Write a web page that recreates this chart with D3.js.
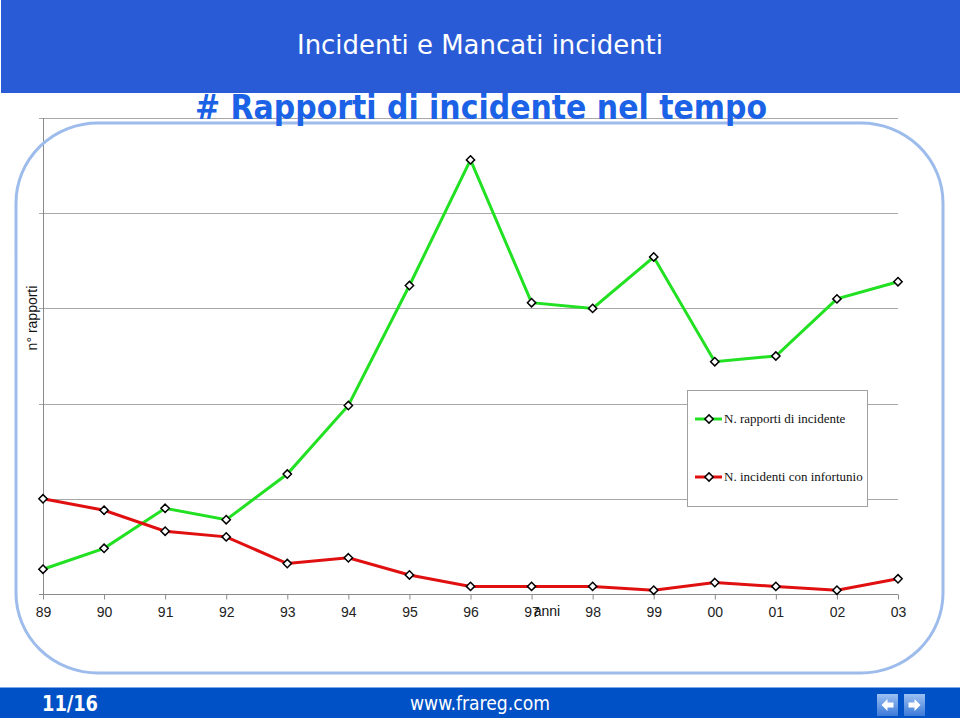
<!DOCTYPE html>
<html>
<head>
<meta charset="utf-8">
<script src="https://cdn.jsdelivr.net/npm/d3@7"></script>
<style>
    body { margin: 0; background: #fff; }
    svg { display: block; }
</style>
</head>
<body>
<div id="chart"></div>
<script>
// data
var years = ["89", "90", "91", "92", "93", "94", "95", "96", "97", "98", "99", "00", "01", "02", "03"];
var rapporti = [13, 24, 45, 39, 63, 99, 162, 228, 153, 150, 177, 122, 125, 155, 164];
var infortuni = [50, 44, 33, 30, 16, 19, 10, 4, 4, 4, 2, 6, 4, 2, 8];
var gridValues = [0, 50, 100, 150, 200, 250];
var seriesNames = ["N. rapporti di incidente", "N. incidenti con infortunio"];
var seriesColors = ["#22e022", "#e01010"];

var W = 960, H = 718;
var svg = d3.select("#chart").append("svg")
    .attr("width", W)
    .attr("height", H);

// header band
svg.append("rect")
    .attr("x", 1).attr("y", 0)
    .attr("width", W - 1).attr("height", 93)
    .attr("fill", "#2a5bd6");
svg.append("text")
    .attr("x", 480).attr("y", 54)
    .attr("text-anchor", "middle")
    .attr("fill", "#fff")
    .attr("font-family", "DejaVu Sans Condensed, DejaVu Sans")
    .attr("font-size", "26px")
    .attr("textLength", 366)
    .attr("lengthAdjust", "spacingAndGlyphs")
    .text("Incidenti  e Mancati incidenti");

// footer band
svg.append("rect")
    .attr("x", 0).attr("y", 687)
    .attr("width", W).attr("height", H - 687)
    .attr("fill", "#0050c6");
svg.append("line")
    .attr("x1", 0).attr("x2", W)
    .attr("y1", 687.5).attr("y2", 687.5)
    .attr("stroke", "#7fa6e6");
svg.append("text")
    .attr("x", 70).attr("y", 711)
    .attr("text-anchor", "middle")
    .attr("fill", "#fff")
    .attr("font-family", "DejaVu Sans Condensed, DejaVu Sans")
    .attr("font-weight", "bold")
    .attr("font-size", "21px")
    .attr("textLength", 56)
    .attr("lengthAdjust", "spacingAndGlyphs")
    .text("11/16");
svg.append("text")
    .attr("x", 480).attr("y", 710)
    .attr("text-anchor", "middle")
    .attr("fill", "#fff")
    .attr("font-family", "DejaVu Sans Condensed, DejaVu Sans")
    .attr("font-size", "20px")
    .attr("textLength", 140)
    .attr("lengthAdjust", "spacingAndGlyphs")
    .text("www.frareg.com");

// nav buttons (left, right)
var defs = svg.append("defs");
var grad = defs.append("linearGradient")
    .attr("id", "btn").attr("x1", 0).attr("y1", 0).attr("x2", 0).attr("y2", 1);
grad.append("stop").attr("offset", "0%").attr("stop-color", "#9cc0f2");
grad.append("stop").attr("offset", "100%").attr("stop-color", "#3c7ad8");
[877, 904].forEach(function (bx, i) {
    svg.append("rect")
        .attr("x", bx).attr("y", 694)
        .attr("width", 21).attr("height", 22)
        .attr("fill", "url(#btn)");
    var cx = bx + 10.5, cy = 705;
    var dir = i == 0 ? -1 : 1;
    svg.append("path")
        .attr("d", "M" + (cx + 6 * dir) + "," + cy +
            "L" + cx + "," + (cy - 6) +
            "L" + cx + "," + (cy - 2.5) +
            "L" + (cx - 6 * dir) + "," + (cy - 2.5) +
            "L" + (cx - 6 * dir) + "," + (cy + 2.5) +
            "L" + cx + "," + (cy + 2.5) +
            "L" + cx + "," + (cy + 6) + "Z")
        .attr("fill", "#fff");
});

// chart area
var margin = { left: 43, right: 62, top: 118, bottom: 124 };
var width = W - margin.left - margin.right;
var height = H - margin.top - margin.bottom;

var g = svg.append("g")
    .attr("transform", "translate(" + margin.left + "," + margin.top + ")");

var x = d3.scalePoint().domain(years).range([0, width]);
var y = d3.scaleLinear().domain([0, 250]).range([height, 0]);

// grid lines
g.append("g")
    .selectAll("line")
    .data(gridValues.slice(1))
    .enter().append("line")
    .attr("x1", -4).attr("x2", width)
    .attr("y1", function (d) { return Math.round(y(d)) + 0.5; })
    .attr("y2", function (d) { return Math.round(y(d)) + 0.5; })
    .attr("stroke", "#a8a8a8")
    .attr("stroke-width", 1);

// y axis (no labels)
g.append("line")
    .attr("x1", 0.5).attr("x2", 0.5)
    .attr("y1", 0).attr("y2", height + 4)
    .attr("stroke", "#8a8a8a");

// x axis
var xAxis = g.append("g")
    .attr("transform", "translate(0," + (height + 0.5) + ")")
    .call(d3.axisBottom(x).tickSize(5).tickPadding(8).tickSizeOuter(0));
xAxis.select(".domain").attr("stroke", "#8a8a8a").attr("d", "M-4,0H" + width);
xAxis.selectAll(".tick line").attr("stroke", "#8a8a8a");
xAxis.selectAll(".tick text")
    .attr("fill", "#222")
    .attr("font-family", "Arial, Liberation Sans")
    .attr("font-size", "14px");

// rounded frame drawn over the grid
svg.append("rect")
    .attr("x", 16).attr("y", 123)
    .attr("width", 927).attr("height", 550)
    .attr("rx", 82).attr("ry", 80)
    .attr("fill", "none")
    .attr("stroke", "#9dbcec")
    .attr("stroke-width", 3);

// subtitle
svg.append("text")
    .attr("x", 481).attr("y", 119)
    .attr("text-anchor", "middle")
    .attr("fill", "#1b62e6")
    .attr("font-family", "DejaVu Sans Condensed, DejaVu Sans")
    .attr("font-weight", "bold")
    .attr("font-size", "34px")
    .attr("textLength", 572)
    .attr("lengthAdjust", "spacingAndGlyphs")
    .text("# Rapporti di incidente nel tempo");

// axis titles
g.append("text")
    .attr("transform", "rotate(-90)")
    .attr("x", -(318 - margin.top))
    .attr("y", -6)
    .attr("text-anchor", "middle")
    .attr("fill", "#111")
    .attr("font-family", "Arial, Liberation Sans")
    .attr("font-size", "14px")
    .text("n° rapporti");
g.append("text")
    .attr("x", 547 - margin.left)
    .attr("y", 616 - margin.top)
    .attr("text-anchor", "middle")
    .attr("fill", "#111")
    .attr("font-family", "Arial, Liberation Sans")
    .attr("font-size", "14px")
    .text("anni");

// series
var series = [rapporti, infortuni];
var line = d3.line()
    .x(function (d, i) { return x(years[i]); })
    .y(function (d) { return y(d); });
var diamond = d3.symbol().type(d3.symbolDiamond2).size(44);

series.forEach(function (s, k) {
    g.append("path")
        .datum(s)
        .attr("d", line)
        .attr("fill", "none")
        .attr("stroke", seriesColors[k])
        .attr("stroke-width", 3);
    g.selectAll(".pt" + k)
        .data(s)
        .enter().append("path")
        .attr("class", "pt" + k)
        .attr("d", diamond)
        .attr("transform", function (d, i) {
            return "translate(" + x(years[i]) + "," + y(d) + ")";
        })
        .attr("fill", "#fff")
        .attr("stroke", "#000")
        .attr("stroke-width", 1.5);
});

// legend
var legend = svg.append("g").attr("transform", "translate(687,390)");
legend.append("rect")
    .attr("x", 0.5).attr("y", 0.5)
    .attr("width", 180).attr("height", 116)
    .attr("fill", "#fff")
    .attr("stroke", "#a0a0a0");
seriesNames.forEach(function (name, k) {
    var ly = 29 + k * 58;
    legend.append("line")
        .attr("x1", 8).attr("x2", 35)
        .attr("y1", ly).attr("y2", ly)
        .attr("stroke", seriesColors[k])
        .attr("stroke-width", 3);
    legend.append("path")
        .attr("d", diamond)
        .attr("transform", "translate(22," + ly + ")")
        .attr("fill", "#fff")
        .attr("stroke", "#000")
        .attr("stroke-width", 1.5);
    legend.append("text")
        .attr("x", 37).attr("y", ly + 4)
        .attr("fill", "#111")
        .attr("font-family", "Liberation Serif, Times New Roman, serif")
        .attr("font-size", "13px")
        .text(name);
});
</script>
</body>
</html>
